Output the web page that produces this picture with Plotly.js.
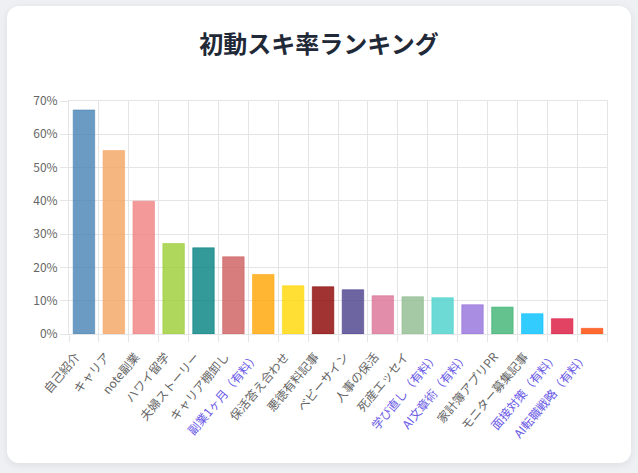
<!DOCTYPE html>
<html>
<head>
<meta charset="utf-8">
<script src="https://cdn.plot.ly/plotly-3.0.1.min.js"></script>
<style>
  html, body { margin: 0; padding: 0; background: #eef0f4; }
  #card {
    position: absolute; left: 7px; top: 6px; width: 624px; height: 457px;
    background: #fff; border-radius: 12px;
    box-shadow: 0 2px 8px rgba(0, 0, 0, 0.08);
  }
  #chart-area { width: 624px; height: 457px; }
</style>
</head>
<body>
<div id="card"><div id="chart-area"></div></div>
<script>
// article titles, sorted by first-day like rate
const articles = [
  "自己紹介", "キャリア", "note副業", "ハワイ留学", "夫婦ストーリー", "キャリア棚卸し",
  "副業1ヶ月（有料）", "保活答え合わせ", "悪徳有料記事", "ベビーサイン", "人事の保活",
  "死産エッセイ", "学び直し（有料）", "AI文章術（有料）", "家計簿アプリPR",
  "モニター募集記事", "面接対策（有料）", "AI転職戦略（有料）",
];
const likeRates = [
  67.3, 55.1, 39.9, 27.2, 25.9, 23.2, 17.9, 14.5, 14.2, 13.3, 11.5, 11.2, 10.9, 8.8,
  8.1, 6.1, 4.6, 1.7,
];
const barColors = [
  "70,130,180", "244,164,96", "240,128,128", "154,205,50", "0,128,128", "205,92,92",
  "255,165,0", "255,215,0", "139,0,0", "72,61,139", "219,112,147", "143,188,143",
  "72,209,204", "147,112,219", "60,179,113", "0,191,255", "220,20,60", "255,69,0",
];

const paidColor = "#6a5ae6";
const plainColor = "#666";

// paid articles get a coloured label
let tickText = articles.map((name) => {
  let isPaid = name.indexOf("有料）") >= 0;
  return `<span style="color:${isPaid ? paidColor : plainColor}">${name}</span>`;
});

let data = [
  {
    type: "bar",
    x: articles,
    y: likeRates,
    width: 0.72,
    marker: {
      color: barColors.map((c) => `rgba(${c},0.8)`),
      line: { width: 1, color: barColors.map((c) => `rgba(${c},0.55)`) },
    },
    hoverinfo: "none",
  },
];

const gridColor = "#e5e5e5";
let layout = {
  width: 624,
  height: 457,
  paper_bgcolor: "rgba(0,0,0,0)",
  plot_bgcolor: "#fff",
  margin: { l: 62, r: 24, t: 95, b: 129 },
  font: { family: "'Noto Sans CJK JP', 'Noto Sans', sans-serif", size: 12, color: plainColor },
  title: {
    text: "<b>初動スキ率ランキング</b>",
    x: 0.5,
    xanchor: "center",
    y: 1 - 39 / 457,
    yanchor: "middle",
    font: { size: 24, color: "#1f2937" },
  },
  showlegend: false,
  xaxis: {
    type: "category",
    tickmode: "array",
    tickvals: articles,
    ticktext: tickText,
    tickangle: -50,
    tickson: "boundaries",
    ticks: "outside",
    ticklen: 7,
    tickcolor: gridColor,
    ticklabelstandoff: 10,
    ticklabelshift: -8,
    showgrid: true,
    gridcolor: gridColor,
    showline: true,
    linecolor: gridColor,
    mirror: true,
    range: [-0.5, articles.length - 0.5],
    tickfont: { size: 12 },
  },
  yaxis: {
    range: [0, 70],
    dtick: 10,
    ticksuffix: "%",
    ticks: "outside",
    ticklen: 8,
    tickcolor: gridColor,
    gridcolor: gridColor,
    zeroline: false,
    showline: true,
    linecolor: gridColor,
    mirror: true,
    tickfont: { size: 12 },
  },
};

Plotly.newPlot("chart-area", data, layout, { displayModeBar: false, staticPlot: true });
</script>
</body>
</html>
